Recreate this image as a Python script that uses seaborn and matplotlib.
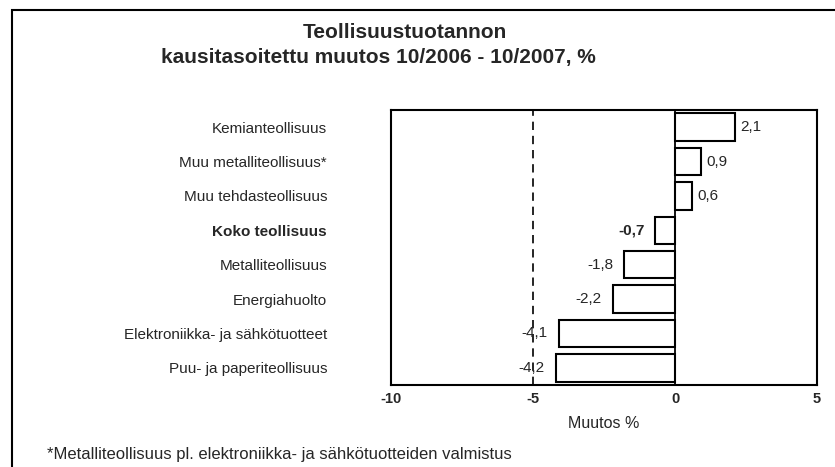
import numpy as np
import pandas as pd
import matplotlib.pyplot as plt
import seaborn as sb
from matplotlib.patches import Rectangle

# Data
categories = ['Kemianteollisuus', 'Muu metalliteollisuus*', 'Muu tehdasteollisuus',
              'Koko teollisuus', 'Metalliteollisuus', 'Energiahuolto',
              'Elektroniikka- ja sähkötuotteet', 'Puu- ja paperiteollisuus']
values = [2.1, 0.9, 0.6, -0.7, -1.8, -2.2, -4.1, -4.2]
value_labels = ['2,1', '0,9', '0,6', '-0,7', '-1,8', '-2,2', '-4,1', '-4,2']
xticks = [-10, -5, 0, 5]

df = pd.DataFrame({'Toimiala': categories, 'Muutos': values})

sb.set_style('white')
plt.rcParams['font.family'] = ['Liberation Sans', 'DejaVu Sans']

W, H = 835, 467
fig = plt.figure(figsize=(W / 100, H / 100), dpi=100)
ax = fig.add_axes([391/W, 1 - 385/H, (817-391)/W, (385-110)/H])

sb.barplot(data=df, x='Muutos', y='Toimiala', orient='h', color='white',
           edgecolor='black', linewidth=1.5, width=0.8, saturation=1, ax=ax)

# reference line at -5 and zero line
ax.axvline(-5, color='black', linestyle=(0, (5, 3.5)), linewidth=1.2)
ax.axvline(0, color='black', linewidth=1.3)

for i, (v, lab) in enumerate(zip(values, value_labels)):
    bold = categories[i] == 'Koko teollisuus'
    if v >= 0:
        ax.text(v + 0.2, i, lab, ha='left', va='center', fontsize=11,
                fontweight='bold' if bold else 'normal')
    else:
        ax.text(v - 0.38, i, lab, ha='right', va='center', fontsize=11,
                fontweight='bold' if bold else 'normal')

ax.set_xlim(-10, 5)
ax.set_ylim(7.5, -0.5)
ax.set_xticks(xticks)
ax.set_xticklabels([str(t) for t in xticks], fontsize=10.5, fontweight='bold')
ax.tick_params(axis='x', length=0, pad=5)
ax.tick_params(axis='y', length=0, pad=46, labelsize=11)
for lbl in ax.get_yticklabels():
    if lbl.get_text() == 'Koko teollisuus':
        lbl.set_fontweight('bold')
ax.set_xlabel('Muutos %', fontsize=11.5, labelpad=7)
ax.set_ylabel('')
for s in ax.spines.values():
    s.set_color('black')
    s.set_linewidth(1.5)

fig.text(405/W, 1 - 33/H, 'Teollisuustuotannon', ha='center', va='center',
         fontsize=15, fontweight='bold')
fig.text(378/W, 1 - 58/H, 'kausitasoitettu muutos 10/2006 - 10/2007, %', ha='center',
         va='center', fontsize=15, fontweight='bold')
fig.text(47/W, 1 - 455/H, '*Metalliteollisuus pl. elektroniikka- ja sähkötuotteiden valmistus',
         ha='left', va='center', fontsize=12)

fig.patches.append(Rectangle((12/W, -0.1), 1.0, 1.1 - 10/H,
                             transform=fig.transFigure, fill=False,
                             edgecolor='black', linewidth=1.5))

fig.savefig('out.png', dpi=100)
